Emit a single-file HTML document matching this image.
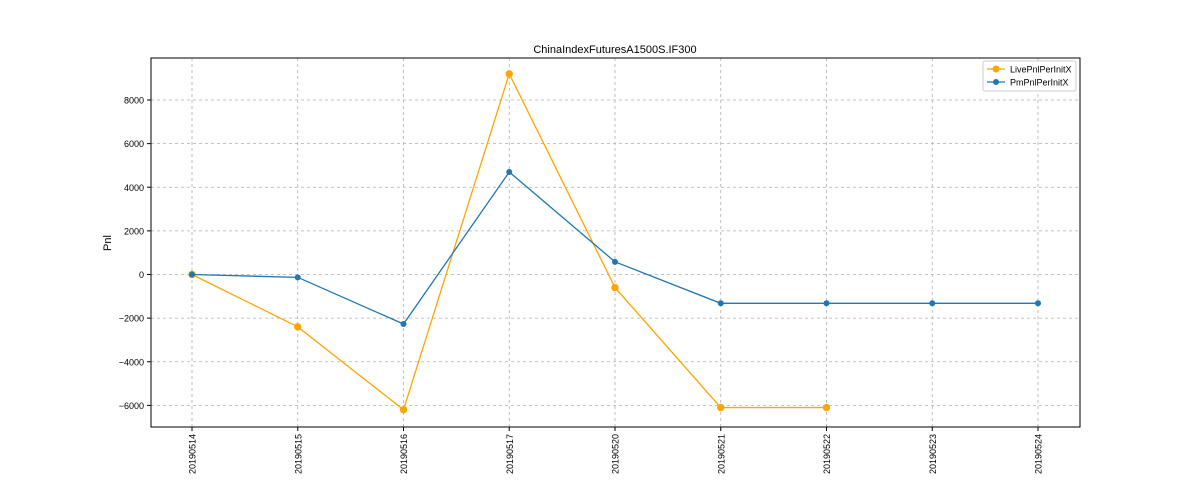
<!DOCTYPE html>
<html><head><meta charset="utf-8"><style>
body{margin:0;background:#fff;}
svg text{font-family:"Liberation Sans",sans-serif;fill:#000;}
</style></head><body>
<svg id="c" width="1200" height="480" xmlns="http://www.w3.org/2000/svg">
<rect width="1200" height="480" fill="#fff"/>
<text x="615" y="53" font-size="11" text-anchor="middle">ChinaIndexFuturesA1500S.IF300</text>
<text x="111" y="243" font-size="11" text-anchor="middle" transform="rotate(-90 111 243)">Pnl</text>
<g id="grid"></g><g id="ticks"></g><g id="series"></g>
<rect x="151" y="58" width="929" height="369" fill="none" stroke="#000" stroke-width="1"/>
<g>
<rect x="983" y="61" width="93" height="30" fill="#fff" stroke="#ccc" rx="2"/>
<g>
<line x1="987" y1="69" x2="1005" y2="69" stroke="orange" stroke-width="1.3"/><circle cx="996" cy="69" r="3.5" fill="orange"/>
<text x="1010" y="72.5" font-size="9">LivePnlPerInitX</text></g>
<g>
<line x1="987" y1="82" x2="1005" y2="82" stroke="#1f77b4" stroke-width="1.3"/><circle cx="996" cy="82" r="3" fill="#1f77b4"/>
<text x="1010" y="85.5" font-size="9">PmPnlPerInitX</text></g>
</g>
</svg>
<script>
const categories=["20190514","20190515","20190516","20190517","20190520","20190521","20190522","20190523","20190524"];
const liveValues=[0,-2400,-6200,9200,-600,-6100,-6100];
const pmValues=[0,-130,-2270,4700,580,-1320,-1320,-1320,-1320];
const yTicks=[-6000,-4000,-2000,0,2000,4000,6000,8000];
const NS="http://www.w3.org/2000/svg";
const xs=i=>192+i*(1038-192)/(categories.length-1);
const ys=v=>274.5-v*(274.5-100)/8000;
function mk(t,a,p){const e=document.createElementNS(NS,t);for(const k in a)e.setAttribute(k,a[k]);p.appendChild(e);return e;}
const grid=document.getElementById('grid'),ticks=document.getElementById('ticks'),ser=document.getElementById('series');
yTicks.forEach(v=>{const y=ys(v);
 const g=mk('line',{x1:151,x2:1080,y1:y,y2:y,stroke:'#b0b0b0','stroke-dasharray':'3,3','stroke-width':0.8},grid);
 
 
 mk('line',{x1:147,x2:151,y1:y,y2:y,stroke:'#000'},ticks);
 const t=mk('text',{x:144,y:y+3.5,'font-size':9,'text-anchor':'end'},ticks);t.textContent=v<0?'\u2212'+(-v):v;
 
 
});
categories.forEach((c,i)=>{const x=xs(i);
 const g=mk('line',{x1:x,x2:x,y1:58,y2:427,stroke:'#b0b0b0','stroke-dasharray':'3,3','stroke-width':0.8},grid);
 
 
 mk('line',{x1:x,x2:x,y1:427,y2:431,stroke:'#000'},ticks);
 const t=mk('text',{x:x+3.5,y:434,'font-size':9,'text-anchor':'end',transform:`rotate(-90 ${x+3.5} 434)`},ticks);t.textContent=c;
 
 
});
function draw(vals,color,r,name){
 const pl=mk('polyline',{points:vals.map((v,i)=>xs(i)+','+ys(v)).join(' '),fill:'none',stroke:color,'stroke-width':1.3},ser);
 
 
 vals.forEach((v,i)=>{const c=mk('circle',{cx:xs(i),cy:ys(v),r:r,fill:color},ser);
  
  });
}
draw(liveValues,'orange',3.7,'live-pnl');
draw(pmValues,'#1f77b4',3,'pm-pnl');
</script>
</body></html>
